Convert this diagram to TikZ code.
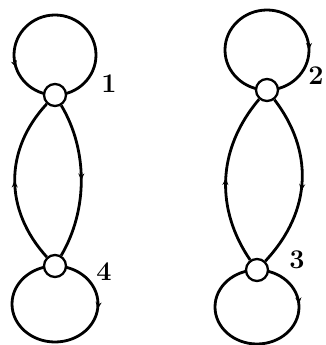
\documentclass[tikz,border=0pt]{standalone}
\usetikzlibrary{decorations.markings,arrows.meta}
\begin{document}
\begin{tikzpicture}[x=1pt,y=-1pt,
  vert/.style={circle,draw,line width=2.3pt,fill=white,minimum size=22pt,inner sep=0pt},
  edge/.style={line width=2.8pt},
  lbl/.style={font=\bfseries\fontsize{27}{27}\selectfont,inner sep=0pt},
  markfwd/.style={postaction={decorate},decoration={markings,mark=at position #1 with {\arrow{Stealth[length=7pt,width=6pt]}}}},
  markbwd/.style={postaction={decorate},decoration={markings,mark=at position #1 with {\arrowreversed{Stealth[length=7pt,width=6pt]}}}}
]
\useasboundingbox (0,0) rectangle (326,345);
% node positions
\coordinate (c1) at (55,95);
\coordinate (c4) at (55,266);
\coordinate (c2) at (267,90);
\coordinate (c3) at (257,270);
% loops
\draw[edge,markfwd=0.8] (c1) arc[start angle=90,delta angle=-360,x radius=41,y radius=40];
\draw[edge,markfwd=0.75] (c2) arc[start angle=90,delta angle=360,x radius=42,y radius=40];
\draw[edge,markfwd=0.27] (c4) arc[start angle=270,delta angle=360,x radius=43,y radius=38];
\draw[edge,markfwd=0.24] (c3) arc[start angle=270,delta angle=360,x radius=42,y radius=37];
% nodes
\node[vert] (n1) at (c1) {};
\node[vert] (n4) at (c4) {};
\node[vert] (n2) at (c2) {};
\node[vert] (n3) at (c3) {};
% lens edges
\draw[edge,markbwd=0.5] (n1) .. controls (4,150) and (4,210) .. (n4);
\draw[edge,markfwd=0.5] (n1) .. controls (88,150) and (88,210) .. (n4);
\draw[edge,markbwd=0.5] (n2) .. controls (216,150) and (216,210) .. (n3);
\draw[edge,markfwd=0.55] (n2) .. controls (313,150) and (313,210) .. (n3);
% labels
\node[lbl] (l1) at (109,84) {1};
\node[lbl] (l2) at (316,76) {2};
\node[lbl] (l4) at (104,272) {4};
\node[lbl] (l3) at (297,260) {3};
\end{tikzpicture}
\end{document}
